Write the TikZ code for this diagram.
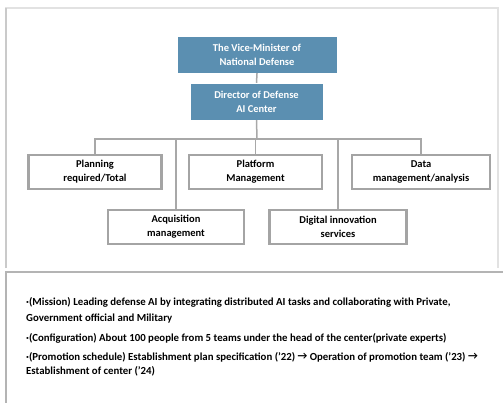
\documentclass[tikz,border=0pt]{standalone}
\usepackage{fontspec}
\setmainfont{Carlito}
\begin{document}
\begin{tikzpicture}[x=1pt,y=1pt,
  topbox/.style={draw=white, fill=topblue, text=white, font=\bfseries\fontsize{10.5}{14}\selectfont, align=center, inner sep=0pt},
  unitbox/.style={draw=boxgray, line width=2.2pt, fill=white, text=black, font=\bfseries\fontsize{10.5}{14}\selectfont, align=center, inner sep=0pt, minimum height=34pt},
  link/.style={draw=linegray, line width=1.5pt},
  note/.style={anchor=west, font=\bfseries\fontsize{10.8}{15.5}\selectfont, align=left, inner sep=0pt, text=black}
]
\definecolor{topblue}{HTML}{5B8FB1}
\definecolor{boxgray}{HTML}{A4A4A4}
\definecolor{linegray}{HTML}{A8A8A8}
\definecolor{panelgray}{HTML}{E2E2E2}
\definecolor{paneledge}{HTML}{B4B4B4}
\useasboundingbox (0,0) rectangle (503,-407);
\fill[white] (0,0) rectangle (503,-407);
% top panel
\draw[panelgray, line width=1.5pt] (6,-268) -- (6,-8) -- (498,-8) -- (498,-268);
\draw[paneledge!70, line width=1.5pt] (6,-268) -- (6,-8);
% bottom panel
\draw[paneledge, line width=1.8pt] (503,-272) -- (6,-272) -- (6,-403);
% org chart
\node[topbox, minimum width=160pt, minimum height=37pt] (vm) at (257,-54.5) {The Vice-Minister of\\National Defense};
\node[topbox, minimum width=133pt, minimum height=37pt] (dir) at (256.5,-101.5) {Director of Defense\\AI Center};
\coordinate (bus) at (257,-139);
\node[unitbox, minimum width=133pt] (plan) at (95,-172) {Planning\\required/Total};
\node[unitbox, minimum width=133pt] (plat) at (255.5,-172) {Platform\\Management};
\node[unitbox, minimum width=138pt] (data) at (421,-172) {Data\\management/analysis};
\node[unitbox, minimum width=136pt] (acq) at (176,-227) {Acquisition\\management};
\node[unitbox, minimum width=137pt] (dig) at (338,-227) {Digital innovation\\services};
\path[link] (vm.south) -- (dir.north);
\path[link] (dir.south) -- (bus);
\path[link] (plan.north) |- (bus) -| (data.north);
\path[link] (acq.north) |- (bus);
\path[link] (plat.north) |- (bus);
\path[link] (dig.north) |- (bus);
% notes
\node[note] (n1) at (26,-310.5) {·(Mission) Leading defense AI by integrating distributed AI tasks and collaborating with Private,\\Government official and Military};
\node[note] (n2) at (26,-338) {·(Configuration) About 100 people from 5 teams under the head of the center(private experts)};
\node[note, font=\bfseries\fontsize{10.8}{14.5}\selectfont] (n3) at (26,-364.5) {·(Promotion schedule) Establishment plan specification ('22) \raisebox{0.5pt}{→} Operation of promotion team ('23) \raisebox{0.5pt}{→}\\Establishment of center ('24)};
\end{tikzpicture}
\end{document}
